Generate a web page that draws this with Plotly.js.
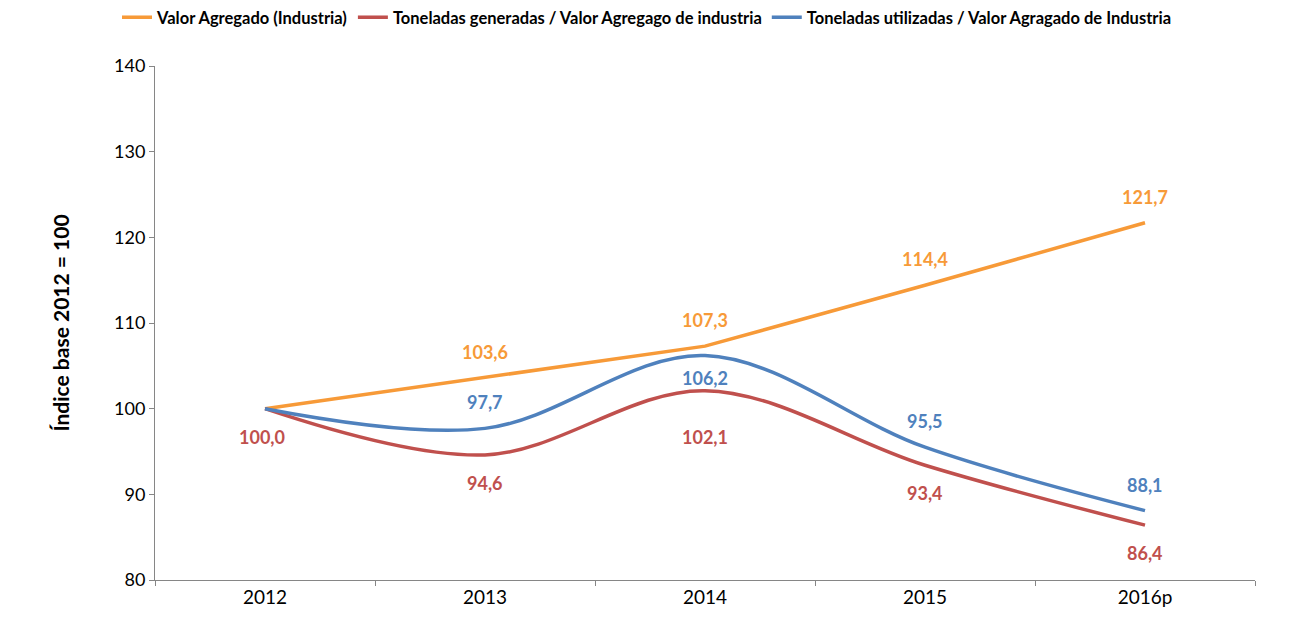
<!DOCTYPE html>
<html><head><meta charset="utf-8">
<script src="https://cdn.plot.ly/plotly-3.0.1.min.js"></script>
<style>html,body{margin:0;padding:0;background:#fff}#chart{width:1294px;height:621px}</style>
</head><body><div id="chart"></div>
<script>
const categories = ["2012", "2013", "2014", "2015", "2016p"];
const valorAgregado = [100.0, 103.6, 107.3, 114.4, 121.7];
const tonGeneradas = [100.0, 94.6, 102.1, 93.4, 86.4];
const tonUtilizadas = [100.0, 97.7, 106.2, 95.5, 88.1];
const seriesNames = ["Valor Agregado (Industria)", "Toneladas generadas / Valor Agregago de industria", "Toneladas utilizadas / Valor Agragado de Industria"];

const colors = ["#F79A38", "#C0504D", "#4F81BD"];
const FONT = "Lato, 'Open Sans', sans-serif";

const fmt = v => v.toFixed(1).replace(".", ",");

const traces = [
  {x: categories, y: valorAgregado, name: seriesNames[0], mode: "lines", line: {color: colors[0], width: 3.5, shape: "linear"}},
  {x: categories, y: tonGeneradas, name: seriesNames[1], mode: "lines", line: {color: colors[1], width: 3.5, shape: "spline", smoothing: 1}},
  {x: categories, y: tonUtilizadas, name: seriesNames[2], mode: "lines", line: {color: colors[2], width: 3.5, shape: "spline", smoothing: 1}}
];

// label offsets (pixels) per series/point
const shifts = [
  [null, 26, 26, 26, 26],
  [-28, -28, -46, -28, -28],
  [null, 26, -22, 26, 26]
];
const seriesData = [valorAgregado, tonGeneradas, tonUtilizadas];
const annotations = [];
seriesData.forEach((arr, s) => {
  arr.forEach((v, i) => {
    if (shifts[s][i] === null) return;
    annotations.push({
      x: i, y: v, xref: "x", yref: "y", text: "<b>" + fmt(v) + "</b>",
      showarrow: false, yshift: shifts[s][i], xshift: (s === 1 && i === 0) ? -3 : 0,
      font: {family: FONT, size: 18, color: colors[s]}
    });
  });
});

const layout = {
  width: 1294, height: 621,
  margin: {l: 155, r: 39, t: 66, b: 41},
  paper_bgcolor: "#fff", plot_bgcolor: "#fff",
  font: {family: FONT, size: 18, color: "#000"},
  showlegend: true,
  legend: {orientation: "h", xref: "container", yref: "container", x: 0.5, xanchor: "center", y: 1, yanchor: "top",
    font: {family: FONT, size: 16.5, color: "#000", weight: "bold"}, tracegroupgap: 0, traceorder: "normal"},
  xaxis: {type: "category", range: [-0.5, 4.5], showgrid: false, showline: true, linecolor: "#868686", linewidth: 1,
    ticks: "outside", tickson: "boundaries", ticklen: 5, tickcolor: "#868686", tickfont: {family: FONT, size: 19, color: "#000"}, zeroline: false, fixedrange: true},
  yaxis: {range: [80, 140], dtick: 10, showgrid: false, showline: true, linecolor: "#868686", linewidth: 1,
    ticks: "outside", ticklen: 5, tickcolor: "#868686", tickfont: {family: FONT, size: 18, color: "#000"}, zeroline: false,
    title: {text: "<b>Índice base 2012 = 100</b>", font: {family: FONT, size: 21, color: "#000"}, standoff: 38}},
  annotations: annotations
};

Plotly.newPlot("chart", traces, layout, {displayModeBar: false, staticPlot: true});
</script></body></html>
